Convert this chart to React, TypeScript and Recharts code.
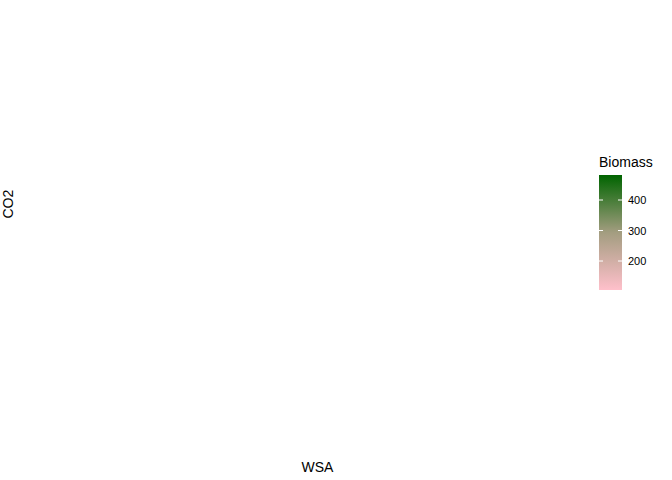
import React from "react";
import { ScatterChart, Scatter, XAxis, YAxis } from "recharts";

const wsa: number[] = [];
const co2: number[] = [];
const biomass: number[] = [];
const xTicks = [0, 200, 400];
const yTicks = [0.8, 1.2, 1.6];
const legendTicks = [200, 300, 400];
const legendMin = 105;
const legendMax = 482;

const data = wsa.map((w, i) => ({ wsa: w, co2: co2[i], biomass: biomass[i] }));
const font = "'Liberation Sans', Arial, sans-serif";

export default function App() {
  const barTop = 175, barH = 115;
  const yOf = (v: number) => barTop + barH * (legendMax - v) / (legendMax - legendMin);
  return (
    <div style={{ position: "absolute", left: 0, top: 0, width: 672, height: 480, background: "#fff", fontFamily: font }}>
      <ScatterChart width={672} height={480} margin={{ top: 5, right: 87, bottom: 0, left: 0 }}>
        <XAxis type="number" dataKey="wsa" domain={[-24.5, 599]} ticks={xTicks} axisLine={false}
          tickSize={4} tickLine={{ stroke: "#333" }} tick={{ fill: "#4d4d4d", fontSize: 11, fontFamily: font }} height={48}
          label={{ value: "WSA", position: "insideBottom", offset: 8, fill: "#000", fontSize: 14, fontFamily: font }} />
        <YAxis type="number" dataKey="co2" domain={[0.42, 1.98]} ticks={yTicks} axisLine={false} width={50}
          tickFormatter={(v: number) => v.toFixed(1)}
          tickSize={4} tickLine={{ stroke: "#333" }} tick={{ fill: "#4d4d4d", fontSize: 11, fontFamily: font }}
          label={{ value: "CO2", angle: -90, position: "insideLeft", offset: 8, fill: "#000", fontSize: 14, fontFamily: font }} />
        <Scatter data={data} fill="#006400" isAnimationActive={false} />
      </ScatterChart>
      <svg style={{ position: "absolute", left: 0, top: 0 }} width={672} height={480}>
        <defs>
          <linearGradient id="g" x1="0" y1="1" x2="0" y2="0">
            <stop offset="0" stopColor="#ffc0cb" />
            <stop offset="0.5" stopColor="#a39d80" />
            <stop offset="1" stopColor="#006400" />
          </linearGradient>
        </defs>
        <text x={599} y={167} fontSize={14} fontFamily={font} fill="#000">Biomass</text>
        <rect x={599} y={barTop} width={23} height={barH} fill="url(#g)" />
        {legendTicks.map((t) => (
          <g key={t}>
            <line x1={599} x2={603} y1={yOf(t)} y2={yOf(t)} stroke="#fff" />
            <line x1={618} x2={622} y1={yOf(t)} y2={yOf(t)} stroke="#fff" />
            <text x={628} y={yOf(t) + 4} fontSize={11} fontFamily={font} fill="#000">{t}</text>
          </g>
        ))}
      </svg>
    </div>
  );
}
